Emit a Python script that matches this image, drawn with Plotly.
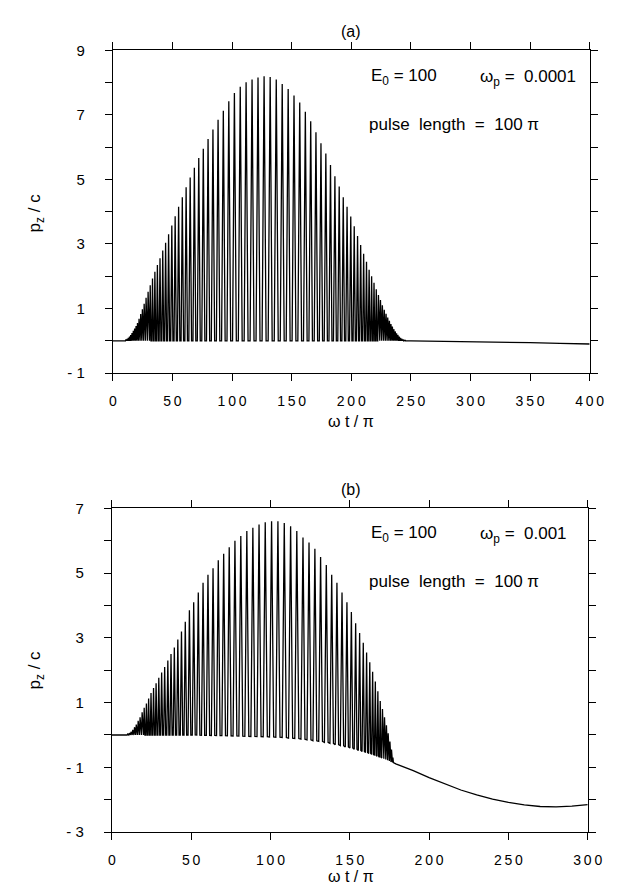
import plotly.graph_objects as go

# ---------------- data: panel (a), omega_p = 0.0001 ----------------
a_spike_x = [10, 11, 12, 13, 14, 15, 16.1, 17.2, 18.3, 19.5, 20.7, 22.0, 23.4, 24.8, 26.3,
             27.9, 29.6, 31.4, 33.3, 35.3, 37.4, 39.6, 41.9, 44.3, 46.8, 49.5, 52.3, 55.2,
             58.3, 61.5, 64.9, 68.4, 72.1, 75.9, 79.9, 84.0, 88.3, 92.7, 97.3, 102.0, 106.9,
             111.8, 116.8, 121.8, 126.9, 132.0, 137.1, 142.1, 147.1, 152.0, 156.8, 161.5,
             166.0, 170.4, 174.6, 178.7, 182.6, 186.3, 189.9, 193.3, 196.5, 199.6, 202.5,
             205.3, 207.9, 210.4, 212.8, 215.0, 217.1, 219.1, 221.0, 222.8, 224.5, 226.1,
             227.7, 229.2, 230.6, 232.0, 233.3, 234.5, 235.7, 236.9, 238.0, 239.1, 240.2,
             241.3, 242.3, 243.3, 244.3, 245.3]
a_spike_peak = [0.02, 0.04, 0.06, 0.09, 0.13, 0.18, 0.24, 0.31, 0.38, 0.46, 0.55, 0.68, 0.83,
                0.98, 1.15, 1.33, 1.52, 1.72, 1.93, 2.14, 2.35, 2.56, 2.8, 3.04, 3.3, 3.57,
                3.86, 4.15, 4.45, 4.76, 5.06, 5.36, 5.66, 5.95, 6.25, 6.55, 6.85, 7.13, 7.42,
                7.68, 7.87, 8.01, 8.1, 8.16, 8.2, 8.17, 8.1, 7.96, 7.8, 7.6, 7.38, 7.1, 6.8,
                6.46, 6.12, 5.8, 5.45, 5.1, 4.78, 4.45, 4.15, 3.85, 3.55, 3.25, 2.97, 2.7,
                2.45, 2.2, 2.0, 1.8, 1.6, 1.42, 1.26, 1.1, 0.96, 0.84, 0.72, 0.62, 0.52, 0.44,
                0.36, 0.29, 0.23, 0.18, 0.13, 0.09, 0.06, 0.04, 0.02, 0.01]
a_baseline = 0.0
a_lead_x = [0]
a_lead_y = [0.0]
a_tail_x = [250, 275, 300, 325, 350, 375, 400]
a_tail_y = [-0.005, -0.015, -0.03, -0.045, -0.06, -0.08, -0.1]

# ---------------- data: panel (b), omega_p = 0.001 ----------------
b_spike_x = [8, 9, 10, 11, 12.1, 13.2, 14.3, 15.4, 16.6, 17.8, 19.1, 20.4, 21.8, 23.2, 24.7,
             26.3, 27.9, 29.6, 31.4, 33.3, 35.3, 37.3, 39.4, 41.6, 43.9, 46.3, 48.9, 51.6,
             54.5, 57.5, 60.6, 63.8, 67.1, 70.5, 74.0, 77.6, 81.3, 85.1, 88.9, 92.8, 96.7,
             100.7, 104.7, 108.7, 112.7, 116.6, 120.5, 124.3, 128.0, 131.6, 135.2, 138.6,
             141.9, 145.1, 148.2, 151.0, 153.7, 156.2, 158.5, 160.6, 162.6, 164.4, 166.1,
             167.7, 169.2, 170.6, 171.9, 173.1, 174.2, 175.3, 176.3, 177.2]
b_spike_peak = [0.01, 0.02, 0.03, 0.06, 0.1, 0.16, 0.24, 0.32, 0.44, 0.55, 0.7, 0.84, 0.97,
                1.13, 1.3, 1.45, 1.6, 1.77, 1.93, 2.1, 2.3, 2.5, 2.7, 2.95, 3.2, 3.5, 3.85,
                4.1, 4.4, 4.7, 4.95, 5.15, 5.4, 5.6, 5.8, 6.0, 6.15, 6.3, 6.4, 6.5, 6.57,
                6.6, 6.6, 6.55, 6.45, 6.3, 6.1, 5.95, 5.75, 5.5, 5.25, 4.95, 4.7, 4.4, 4.1,
                3.8, 3.45, 3.15, 2.85, 2.55, 2.25, 1.95, 1.65, 1.35, 1.05, 0.8, 0.55, 0.3,
                0.05, -0.2, -0.45, -0.7]
b_spike_base = [0, 0, 0, 0, 0, 0, 0, 0, 0, 0, 0, 0, 0, 0, 0,
                0, 0, 0, 0, 0, 0, 0, 0, 0, 0, 0, 0, 0,
                -0.005, -0.01, -0.01, -0.015, -0.02, -0.02, -0.025, -0.03, -0.035, -0.04,
                -0.045, -0.05, -0.055, -0.06, -0.07, -0.08, -0.1, -0.11, -0.13, -0.15, -0.18,
                -0.2, -0.23, -0.26, -0.3, -0.33, -0.37, -0.4, -0.44, -0.48, -0.51, -0.54,
                -0.57, -0.6, -0.63, -0.66, -0.69, -0.71, -0.73, -0.76, -0.78, -0.8, -0.83,
                -0.85]
b_lead_x = [0]
b_lead_y = [0.0]
b_tail_x = [179, 190, 200, 210, 220, 230, 240, 250, 260, 270, 280, 290, 300]
b_tail_y = [-0.89, -1.1, -1.32, -1.52, -1.7, -1.85, -1.98, -2.08, -2.16, -2.21, -2.22, -2.2, -2.15]

# ---------------- axis ticks ----------------
a_xticks = [0, 50, 100, 150, 200, 250, 300, 350, 400]
a_xtext = ["0", "5\u20090", "1\u20090\u20090", "1\u20095\u20090", "2\u20090\u20090",
           "2\u20095\u20090", "3\u20090\u20090", "3\u20095\u20090", "4\u20090\u20090"]
b_xticks = [0, 50, 100, 150, 200, 250, 300]
b_xtext = ["0", "5\u20090", "1\u20090\u20090", "1\u20095\u20090", "2\u20090\u20090",
           "2\u20095\u20090", "3\u20090\u20090"]
a_yticks = [-1, 0, 1, 2, 3, 4, 5, 6, 7, 8, 9]
a_ytext = ["- 1", "", "1", "", "3", "", "5", "", "7", "", "9"]
b_yticks = [-3, -2, -1, 0, 1, 2, 3, 4, 5, 6, 7]
b_ytext = ["- 3", "", "- 1", "", "1", "", "3", "", "5", "", "7"]

W, H = 618, 888
FONT = "Liberation Sans, Arial, Helvetica, sans-serif"


def build(lead_x, lead_y, spx, peak, base, tail_x, tail_y):
    xs = list(lead_x)
    ys = list(lead_y)
    n = len(spx)
    for i in range(n):
        left = spx[i] - spx[i - 1] if i > 0 else spx[1] - spx[0]
        right = spx[i + 1] - spx[i] if i < n - 1 else left
        b = base[i] if isinstance(base, list) else base
        xs += [spx[i] - 0.33 * left, spx[i], spx[i] + 0.33 * right]
        ys += [b, peak[i], b]
    xs += list(tail_x)
    ys += list(tail_y)
    return xs, ys


ax, ay = build(a_lead_x, a_lead_y, a_spike_x, a_spike_peak, a_baseline, a_tail_x, a_tail_y)
bx, by = build(b_lead_x, b_lead_y, b_spike_x, b_spike_peak, b_spike_base, b_tail_x, b_tail_y)

fig = go.Figure()
fig.add_trace(go.Scatter(x=ax, y=ay, mode="lines", line=dict(color="black", width=1.3),
                         xaxis="x", yaxis="y", showlegend=False, hoverinfo="skip"))
fig.add_trace(go.Scatter(x=bx, y=by, mode="lines", line=dict(color="black", width=1.3),
                         xaxis="x2", yaxis="y2", showlegend=False, hoverinfo="skip"))


def px(x):
    return x / W


def py(y):
    return 1 - y / H


axis_common = dict(showline=True, linecolor="black", linewidth=1, mirror="allticks",
                   ticks="outside", ticklen=7, tickcolor="black", tickwidth=1,
                   showgrid=False, zeroline=False)
xfont = dict(family=FONT, size=14, color="black")
yfont = dict(family=FONT, size=15, color="black")

fig.update_layout(
    width=W, height=H,
    margin=dict(l=0, r=0, t=0, b=0),
    paper_bgcolor="white", plot_bgcolor="white",
    font=dict(family=FONT, color="black"),
    xaxis=dict(domain=[px(104), px(596)], range=[0, 400], anchor="y",
               tickvals=a_xticks, ticktext=a_xtext, ticklabelstandoff=8,
               tickfont=xfont, **axis_common),
    yaxis=dict(domain=[py(363), py(34)], range=[-1, 9], anchor="x",
               tickvals=a_yticks, ticktext=a_ytext, ticklabelstandoff=17,
               tickfont=yfont, **axis_common),
    xaxis2=dict(domain=[px(103), px(594)], range=[0, 300], anchor="y2",
                tickvals=b_xticks, ticktext=b_xtext, ticklabelstandoff=8,
                tickfont=xfont, **axis_common),
    yaxis2=dict(domain=[py(831), py(501)], range=[-3, 7], anchor="x2",
                tickvals=b_yticks, ticktext=b_ytext, ticklabelstandoff=17,
                tickfont=yfont, **axis_common),
)

ann = []


def text(x, y, s, size=15, xanchor="center", angle=0):
    ann.append(dict(x=px(x), y=py(y), xref="paper", yref="paper", text=s, showarrow=False,
                    xanchor=xanchor, yanchor="middle", textangle=angle,
                    font=dict(family=FONT, size=size, color="black")))


# panel labels
text(350, 15, "(a)", 16)
text(350, 482, "(b)", 16)
# x axis titles
text(350, 412, "ω t / π", 16)
text(350, 876, "ω t / π", 16)
# y axis titles
text(25, 200, "p<sub>z</sub> / c", 17, angle=-90)
text(25, 666, "p<sub>z</sub> / c", 17, angle=-90)
# in-plot annotations (a)
text(368, 61, "E<sub>0</sub> = 100", 17, xanchor="left")
text(481, 62, "ω<sub>p</sub> =  0.0001", 17, xanchor="left")
text(366, 110, "pulse  length  =  100 π", 17, xanchor="left")
# in-plot annotations (b)
text(368, 527, "E<sub>0</sub> = 100", 17, xanchor="left")
text(481, 528, "ω<sub>p</sub> =  0.001", 17, xanchor="left")
text(366, 576, "pulse  length  =  100 π", 17, xanchor="left")

fig.update_layout(annotations=ann)
fig.write_html("out.html")
